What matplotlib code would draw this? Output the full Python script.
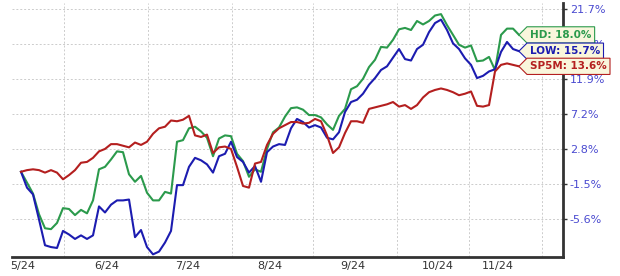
import numpy as np
import matplotlib
matplotlib.use("Agg")
import matplotlib.pyplot as plt
from matplotlib.path import Path

# % change since start, roughly every other session
hd = [0.0, -1.3, -2.6, -5.0, -6.6, -6.7, -6.0, -4.3, -4.4, -5.1, -4.5, -4.9, -3.4, 0.3,
      0.6, 1.5, 2.5, 2.4, -0.3, -1.2, -0.5, -2.5, -3.4, -3.4, -2.4, -2.6, 3.7, 3.9,
      5.4, 5.6, 5.0, 4.2, 1.9, 4.1, 4.5, 4.4, 2.2, 1.3, -0.6, 0.3, 0.0, 2.8,
      4.9, 5.5, 6.9, 8.0, 8.1, 7.8, 7.1, 7.1, 6.8, 5.9, 5.2, 7.0, 7.9, 10.5,
      10.9, 11.9, 13.5, 14.5, 16.3, 16.2, 17.3, 18.8, 19.0, 18.7, 20.0, 19.5, 20.0, 20.8,
      21.0, 19.4, 18.0, 16.6, 16.2, 16.5, 14.3, 14.4, 14.9, 13.1, 18.0, 18.9, 18.9, 18.0]
low = [0.0, -1.9, -2.7, -5.6, -8.5, -8.7, -8.8, -6.9, -7.3, -7.8, -7.4, -7.8, -7.4, -4.1,
       -4.8, -3.9, -3.4, -3.4, -3.3, -7.6, -6.8, -8.7, -9.5, -9.2, -8.2, -6.9, -1.6, -1.6,
       0.6, 1.7, 1.4, 0.9, -0.1, 1.9, 2.2, 3.7, 1.8, 1.2, -0.1, 0.7, -1.2, 2.4,
       3.1, 3.4, 3.3, 5.4, 6.6, 6.2, 5.5, 5.8, 5.5, 4.2, 4.0, 4.9, 7.5, 8.8,
       9.1, 9.9, 11.1, 12.0, 13.1, 13.6, 14.8, 16.0, 14.6, 14.4, 16.0, 16.6, 18.4, 19.7,
       20.2, 18.7, 16.8, 16.0, 14.7, 13.8, 12.0, 12.3, 12.9, 13.2, 15.6, 17.0, 16.0, 15.7]
sp5m = [0.0, 0.2, 0.3, 0.2, -0.1, 0.2, -0.1, -0.9, -0.4, 0.2, 1.1, 1.2, 1.7, 2.5,
        2.8, 3.4, 3.4, 3.2, 3.0, 3.6, 3.3, 3.7, 4.7, 5.4, 5.6, 6.4, 6.3, 6.5,
        7.0, 4.5, 4.3, 4.6, 2.3, 3.0, 3.1, 2.8, 0.6, -1.7, -1.9, 1.0, 1.2, 3.3,
        4.7, 5.4, 5.8, 6.2, 6.2, 6.0, 6.1, 6.6, 6.3, 4.5, 2.3, 3.0, 4.8, 6.3,
        6.3, 6.1, 7.9, 8.1, 8.3, 8.5, 8.8, 8.2, 8.4, 7.9, 8.4, 9.4, 10.1, 10.4,
        10.6, 10.4, 10.1, 9.7, 9.9, 10.2, 8.3, 8.2, 8.4, 12.9, 13.8, 14.0, 13.8, 13.6]

month_labels = ["5/24", "6/24", "7/24", "8/24", "9/24", "10/24", "11/24"]
label_pos = [0.33, 14.33, 27.83, 41.5, 55.33, 69.5, 79.5]
month_starts = [7.17, 21.17, 35.17, 48.67, 62.67, 74.67, 86.83]
y_ticks = [21.7, 16.7, 11.9, 7.2, 2.8, -1.5, -5.6]

series = [("HD", hd, "#2b9a4c"), ("LOW", low, "#1c1cb0"), ("SP5M", sp5m, "#b41f1f")]


def tag_box(x0, y0, width, height, mutation_size):
    # price-tag shape pointing left
    pad = mutation_size * 0.3
    x0, y0 = x0 - pad, y0 - pad
    x1, y1 = x0 + width + 2 * pad, y0 + height + 2 * pad
    tip = (y1 - y0) / 2
    ym = (y0 + y1) / 2
    verts = [(x0 - tip, ym), (x0, y0), (x1, y0), (x1, y1), (x0, y1), (x0 - tip, ym)]
    return Path(verts, closed=True)


fig = plt.figure(figsize=(6.2, 2.76), dpi=100)
ax = fig.add_axes([12 / 620, 19 / 276, 551 / 620, 254 / 276])

ax.set_yscale("function", functions=(lambda v: np.log1p(np.asarray(v) / 100),
                                     lambda v: np.expm1(v) * 100))

x = np.arange(len(hd))
for name, vals, color in series:
    ax.plot(x, vals, color=color, linewidth=1.5, zorder=3)

ax.set_xlim(-1.5, 90.33)
ax.set_ylim(-9.79, 22.64)

ax.yaxis.tick_right()
ax.set_yticks(y_ticks, [f"{v:.1f}%" for v in y_ticks])
ax.tick_params(axis="y", which="both", length=3, width=1, color="#333333",
               labelsize=8, labelcolor="#4a4ad0", pad=2)
ax.set_yticks([], minor=True)

ax.set_xticks(label_pos, month_labels)
ax.set_xticks(month_starts, minor=True)
ax.tick_params(axis="x", which="both", length=0, labelsize=8, labelcolor="#333333", pad=3)

ax.grid(axis="y", which="major", color="#cccccc", linestyle=(0, (2, 2)), linewidth=0.7)
ax.grid(axis="x", which="minor", color="#cccccc", linestyle=(0, (2, 2)), linewidth=0.7)

for side in ["left", "top"]:
    ax.spines[side].set_visible(False)
for side in ["right", "bottom"]:
    ax.spines[side].set_linewidth(2)
    ax.spines[side].set_color("#333333")

for name, vals, color in series:
    ax.annotate(f"{name}: {vals[-1]:.1f}%", xy=(x[-1], vals[-1]), xytext=(8, 0),
                textcoords="offset points", ha="left", va="center",
                fontsize=7.5, fontweight="bold", color=color,
                bbox=dict(boxstyle=tag_box, fc="#f9f6dc", ec=color, lw=0.8),
                annotation_clip=False, zorder=6)

fig.savefig("out.png", dpi=100)
